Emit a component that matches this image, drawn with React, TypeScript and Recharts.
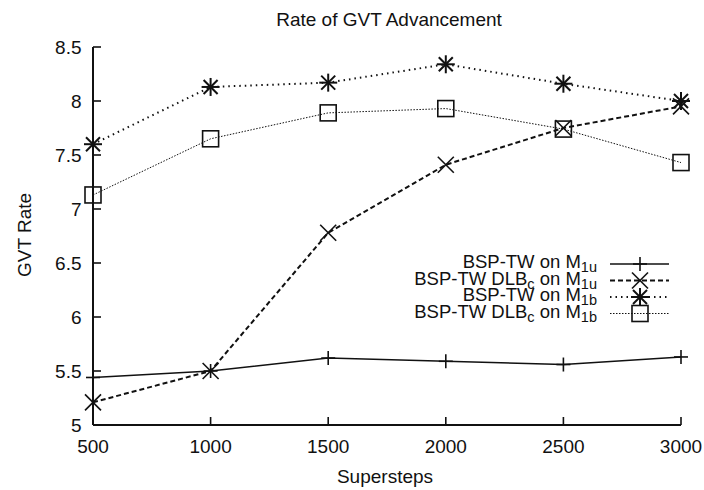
import { LineChart, Line, XAxis, YAxis } from "recharts";

const steps = [500, 1000, 1500, 2000, 2500, 3000];
const bspM1u = [5.44, 5.5, 5.62, 5.59, 5.56, 5.63];
const dlbM1u = [5.21, 5.5, 6.78, 7.41, 7.75, 7.95];
const bspM1b = [7.6, 8.13, 8.17, 8.34, 8.16, 8.0];
const dlbM1b = [7.13, 7.65, 7.89, 7.93, 7.74, 7.43];

const xTicks = [500, 1000, 1500, 2000, 2500, 3000];
const yTicks = [5, 5.5, 6, 6.5, 7, 7.5, 8, 8.5];

const data = steps.map((s, i) => ({
  step: s,
  bspM1u: bspM1u[i],
  dlbM1u: dlbM1u[i],
  bspM1b: bspM1b[i],
  dlbM1b: dlbM1b[i],
}));

const FONT = '"Liberation Sans", Arial, Helvetica, sans-serif';
const INK = "#111";
const TICK_LEN = 8;

// point markers, gnuplot style
function PlusMark({ cx, cy }: any) {
  const h = 7;
  return (
    <g stroke={INK} strokeWidth={1.6}>
      <line x1={cx - h} x2={cx + h} y1={cy} y2={cy} />
      <line x1={cx} x2={cx} y1={cy - h} y2={cy + h} />
    </g>
  );
}

function CrossMark({ cx, cy }: any) {
  const h = 8;
  return (
    <g stroke={INK} strokeWidth={1.6}>
      <line x1={cx - h} x2={cx + h} y1={cy - h} y2={cy + h} />
      <line x1={cx - h} x2={cx + h} y1={cy + h} y2={cy - h} />
    </g>
  );
}

function StarMark({ cx, cy }: any) {
  const h = 9;
  const d = 7;
  return (
    <g stroke={INK} strokeWidth={2}>
      <line x1={cx - h} x2={cx + h} y1={cy} y2={cy} />
      <line x1={cx} x2={cx} y1={cy - h} y2={cy + h} />
      <line x1={cx - d} x2={cx + d} y1={cy - d} y2={cy + d} />
      <line x1={cx - d} x2={cx + d} y1={cy + d} y2={cy - d} />
    </g>
  );
}

function SquareMark({ cx, cy }: any) {
  const h = 8;
  return (
    <rect x={cx - h} y={cy - h} width={2 * h} height={2 * h} fill="none" stroke={INK} strokeWidth={1.6} />
  );
}

// ticks point inward on all four sides
function BottomTick({ x, y, payload }: any) {
  return (
    <g>
      <line x1={x} x2={x} y1={y} y2={y - TICK_LEN} stroke={INK} strokeWidth={1.6} />
      <text x={x} y={y + 28} textAnchor="middle" fontSize={19} fontFamily={FONT} fill={INK}>
        {payload.value}
      </text>
    </g>
  );
}

function TopTick({ x, y }: any) {
  return <line x1={x} x2={x} y1={y} y2={y + TICK_LEN} stroke={INK} strokeWidth={1.6} />;
}

function LeftTick({ x, y, payload }: any) {
  return (
    <g>
      <line x1={x} x2={x + TICK_LEN} y1={y} y2={y} stroke={INK} strokeWidth={1.6} />
      <text x={x - 11.5} y={y + 6.5} textAnchor="end" fontSize={19} fontFamily={FONT} fill={INK}>
        {payload.value}
      </text>
    </g>
  );
}

function RightTick({ x, y }: any) {
  return <line x1={x} x2={x - TICK_LEN} y1={y} y2={y} stroke={INK} strokeWidth={1.6} />;
}

const series = [
  { key: "bspM1u", name: "BSP-TW", sub: "", m: "1u", dash: undefined, width: 1.6, Mark: PlusMark },
  { key: "dlbM1u", name: "BSP-TW DLB", sub: "c", m: "1u", dash: "5 3", width: 2, Mark: CrossMark },
  { key: "bspM1b", name: "BSP-TW", sub: "", m: "1b", dash: "1.5 4", width: 2, Mark: StarMark },
  { key: "dlbM1b", name: "BSP-TW DLB", sub: "c", m: "1b", dash: "1.5 1.5", width: 1, Mark: SquareMark },
];

const legendBaselines = [268, 284.5, 301, 317.5];

function Key() {
  return (
    <svg width={704} height={490} style={{ position: "absolute", left: 0, top: 0, pointerEvents: "none" }}>
      <text x={389} y={26} textAnchor="middle" fontSize={19} fontFamily={FONT} fill={INK}>
        Rate of GVT Advancement
      </text>
      <text
        x={31}
        y={235}
        textAnchor="middle"
        fontSize={19}
        fontFamily={FONT}
        fill={INK}
        transform="rotate(-90, 31, 235)"
      >
        GVT Rate
      </text>
      <text x={385} y={483} textAnchor="middle" fontSize={19} fontFamily={FONT} fill={INK}>
        Supersteps
      </text>
      {series.map((s, i) => {
        const by = legendBaselines[i];
        const ly = by - 4;
        const Mark = s.Mark;
        return (
          <g key={s.key}>
            <text x={597} y={by} textAnchor="end" fontSize={18.5} fontFamily={FONT} fill={INK}>
              <tspan>{s.name}</tspan>
              {s.sub ? (
                <>
                  <tspan dy={4} fontSize={14.5}>{s.sub}</tspan>
                  <tspan dy={-4}> on M</tspan>
                </>
              ) : (
                <tspan> on M</tspan>
              )}
              <tspan dy={4} fontSize={14.5}>{s.m}</tspan>
            </text>
            <line
              x1={610}
              x2={669}
              y1={ly}
              y2={ly}
              stroke={INK}
              strokeWidth={s.width}
              strokeDasharray={s.dash}
            />
            <Mark cx={640} cy={ly} />
          </g>
        );
      })}
    </svg>
  );
}

export default function App() {
  return (
    <div style={{ position: "absolute", left: 0, top: 0, width: 704, height: 490, background: "#fff" }}>
      <LineChart width={704} height={490} data={data} margin={{ top: 47, right: 23, bottom: 0, left: 0 }}>
        <XAxis
          dataKey="step"
          type="number"
          domain={[500, 3000]}
          ticks={xTicks}
          interval={0}
          height={65}
          tickSize={0}
          tickMargin={0}
          tickLine={false}
          tick={<BottomTick />}
          axisLine={{ stroke: INK, strokeWidth: 2 }}
        />
        <XAxis
          xAxisId="top"
          dataKey="step"
          type="number"
          orientation="top"
          domain={[500, 3000]}
          ticks={xTicks}
          interval={0}
          height={0}
          tickSize={0}
          tickMargin={0}
          tickLine={false}
          tick={<TopTick />}
          axisLine={{ stroke: INK, strokeWidth: 2 }}
        />
        <YAxis
          type="number"
          domain={[5, 8.5]}
          ticks={yTicks}
          interval={0}
          width={93}
          tickSize={0}
          tickMargin={0}
          tickLine={false}
          tick={<LeftTick />}
          axisLine={{ stroke: INK, strokeWidth: 2 }}
        />
        <YAxis
          yAxisId="right"
          type="number"
          orientation="right"
          domain={[5, 8.5]}
          ticks={yTicks}
          interval={0}
          width={0}
          tickSize={0}
          tickMargin={0}
          tickLine={false}
          tick={<RightTick />}
          axisLine={{ stroke: INK, strokeWidth: 2 }}
        />
        {series.map((s) => (
          <Line
            key={s.key}
            dataKey={s.key}
            type="linear"
            stroke={INK}
            strokeWidth={s.width}
            strokeDasharray={s.dash}
            dot={<s.Mark />}
            activeDot={false}
            isAnimationActive={false}
          />
        ))}
      </LineChart>
      <Key />
    </div>
  );
}
